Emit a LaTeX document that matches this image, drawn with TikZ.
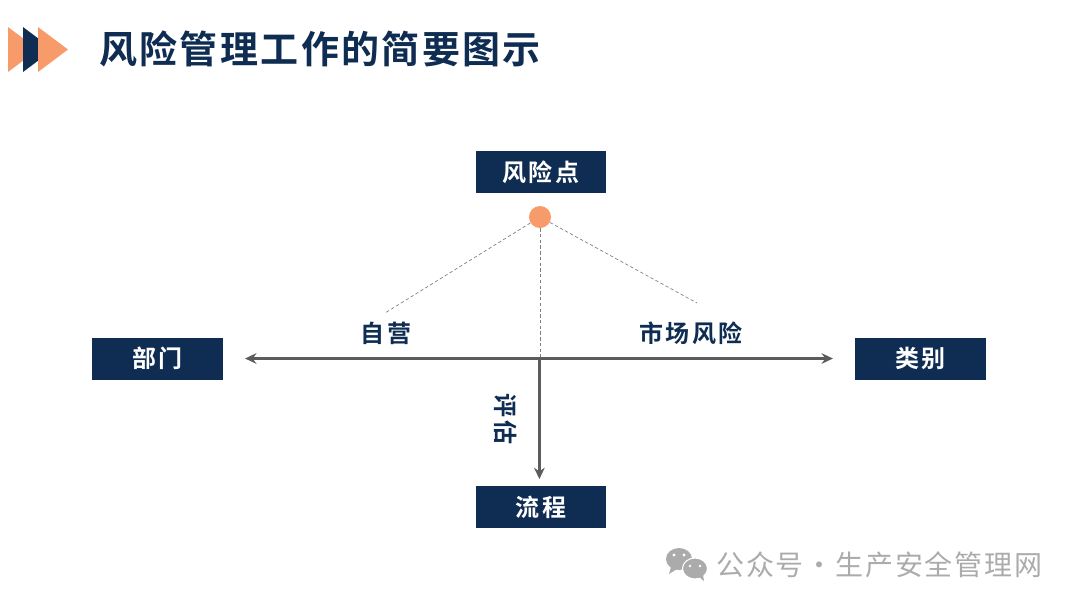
\documentclass[tikz,border=0pt]{standalone}
\usepackage{fontspec}
\setmainfont{Noto Sans CJK SC}[BoldFont={* Bold}]
\newfontfamily\titlefont{Noto Sans CJK SC Bold}[LetterSpace=6.2]
\newfontfamily\boxfont{Noto Sans CJK SC Bold}[LetterSpace=10]
\newfontfamily\markfont{Noto Sans CJK SC}[LetterSpace=6.5]
\usetikzlibrary{arrows.meta}
\definecolor{navy}{HTML}{0F2D52}
\definecolor{peach}{HTML}{F79B6B}
\definecolor{axisgray}{HTML}{5C5C5C}
\definecolor{markgray}{HTML}{ABABAB}
\tikzset{
  boxnode/.style={fill=navy,text=white,minimum width=98pt,minimum height=31.5pt,inner sep=0pt,font=\boxfont\fontsize{18}{21}\selectfont},
  labelnode/.style={text=navy,inner sep=0pt,font=\boxfont\fontsize{18}{21}\selectfont},
  axis/.style={draw=axisgray,line width=2.2pt,-{Stealth[length=8.5pt,width=8pt]}},
  thindash/.style={draw=axisgray!80,line width=0.5pt,dash pattern=on 2.5pt off 1.8pt},
}
\begin{document}
\begin{tikzpicture}[x=0.75pt,y=-0.75pt]
\useasboundingbox (0,0) rectangle (1080,608);
% title marker
\fill[peach] (8,27) -- (38,49.5) -- (8,72) -- cycle;
\fill[navy] (23,27) -- (53,49.5) -- (23,72) -- cycle;
\fill[peach] (38,27) -- (68,49.5) -- (38,72) -- cycle;
\node[anchor=west,text=navy,inner sep=0pt,font=\titlefont\fontsize{28.5}{33}\selectfont] (title) at (99,49) {风险管理工作的简要图示};
% boxes
\node[boxnode] (risk) at (541,172) {风险点};
\node[boxnode] (dept) at (157.5,358.5) {部门};
\node[boxnode] (cat) at (920.5,358.5) {类别};
\node[boxnode] (flow) at (541,507) {流程};
% point
\node[circle,fill=peach,minimum size=16.5pt,inner sep=0pt] (pt) at (540,217) {};
\coordinate (self) at (385,313);
\coordinate (market) at (697,303);
\coordinate (dashend) at (540,357);
\coordinate (junction) at (539.4,358.5);
% dashed
\draw[thindash] (pt) -- (self);
\draw[thindash] (pt) -- (market);
\draw[thindash] (pt) -- (dashend);
% axes
\draw[axis,{Stealth[length=8.5pt,width=8pt]}-{Stealth[length=8.5pt,width=8pt]},shorten <=16.5pt,shorten >=16.5pt] (dept.east) -- (cat.west);
\draw[axis,shorten >=5pt] (junction) -- (flow.north -| junction);
% labels
\node[labelnode] (lself) at (386,333) {自营};
\node[labelnode] (lmarket) at (691,333) {市场风险};
\node[labelnode,rotate=-90] (leval) at (506,419) {评估};
% watermark
\fill[markgray] (679,559) ellipse (13 and 11);
\fill[markgray] (671,567) -- (669,574) -- (677,569) -- cycle;
\draw[white,line width=0.8pt,fill=markgray] (695,568.5) ellipse (12.5 and 10.5);
\fill[markgray] (699,577) -- (704,581) -- (703,575) -- cycle;
\fill[white] (674,555) circle (1.6) (684,555) circle (1.6) (690,566) circle (1.4) (700,566) circle (1.4);
\node[anchor=west,text=markgray,inner sep=0pt,font=\markfont\fontsize{21}{25}\selectfont] (mark) at (716,565) {公众号·生产安全管理网};
\end{tikzpicture}
\end{document}
